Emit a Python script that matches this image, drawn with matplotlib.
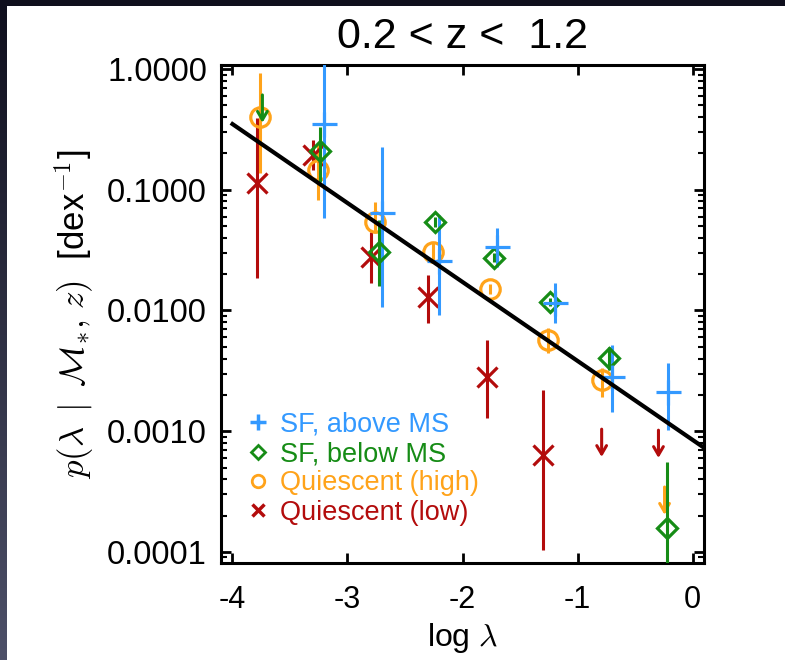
import numpy as np
import matplotlib
matplotlib.use('Agg')
import matplotlib.pyplot as plt
from matplotlib.patches import Rectangle
from matplotlib.lines import Line2D

plt.rcParams['font.family'] = ['Liberation Sans', 'DejaVu Sans']
plt.rcParams['mathtext.fontset'] = 'cm'

# -----------------------------
# Data
# -----------------------------
# SF, above MS
sfa_x = [-3.20, -2.70, -2.20, -1.70, -1.20, -0.70, -0.21]
sfa_y = [0.35, 0.064, 0.0257, 0.0336, 0.0115, 0.0028, 0.0021]
sfa_lo = [0.058, 0.0107, 0.0092, 0.0229, 0.0079, 0.00144, 0.00102]
sfa_hi = [1.5, 0.226, 0.0618, 0.0482, 0.0169, 0.0052, 0.0037]

# SF, below MS
sfb_x = [-3.235, -2.73, -2.235, -1.73, -1.235, -0.73, -0.226]
sfb_y = [0.209, 0.0305, 0.054, 0.0272, 0.0117, 0.00404, 0.000158]
sfb_lo = [0.116, 0.016, 0.049, 0.025, 0.0108, 0.00321, 5e-5]
sfb_hi = [0.33, 0.056, 0.060, 0.030, 0.0127, 0.00499, 0.000556]
sfb_ul_x = [-3.74]
sfb_ul_y = [0.61]

# Quiescent (high)
qh_x = [-3.757, -3.26, -2.765, -2.26, -1.765, -1.26, -0.783]
qh_y = [0.40, 0.146, 0.054, 0.0305, 0.0151, 0.0057, 0.00266]
qh_lo = [0.138, 0.082, 0.0438, 0.0252, 0.0137, 0.00445, 0.00192]
qh_hi = [0.93, 0.244, 0.079, 0.037, 0.0165, 0.00716, 0.00334]
qh_ul_x = [-0.243]
qh_ul_y = [0.000345]

# Quiescent (low)
ql_x = [-3.79, -3.30, -2.80, -2.296, -1.79, -1.296]
ql_y = [0.114, 0.194, 0.0277, 0.0129, 0.00281, 0.000636]
ql_lo = [0.0186, 0.146, 0.0169, 0.00787, 0.00129, 0.000104]
ql_hi = [0.39, 0.258, 0.0447, 0.0197, 0.0057, 0.0022]
ql_ul_x = [-0.79, -0.296]
ql_ul_y = [0.00104, 0.00102]

# power-law fit
fit_x = [-4.0, 0.1]
fit_y = [0.35, 7.3e-4]

yticks = [1e-4, 1e-3, 1e-2, 1e-1, 1.0]
ytick_labels = ['0.0001', '0.0010', '0.0100', '0.1000', '1.0000']
xticks = [-4, -3, -2, -1, 0]

c_blue = '#3399ff'
c_green = '#168c16'
c_orange = '#ffa31a'
c_red = '#b30c0c'

# -----------------------------
# Figure + slide background
# -----------------------------
W, H = 785, 660
fig = plt.figure(figsize=(W / 100, H / 100), dpi=100)
bg = fig.add_axes([0, 0, 1, 1], zorder=-10)
grad = np.linspace(0, 1, 256)[:, None]
bg.imshow(grad, cmap=matplotlib.colors.LinearSegmentedColormap.from_list(
    'slide', ['#0f0f1d', '#4d5068']), extent=[0, W, H, 0], aspect='auto')
bg.add_patch(Rectangle((7, 6), W - 7, H - 6, facecolor='white', edgecolor='none'))
bg.set_xlim(0, W)
bg.set_ylim(H, 0)
bg.axis('off')

ax = fig.add_axes([221 / W, 1 - 563 / H, (704 - 221) / W, (563 - 65) / H])
ax.set_yscale('log')
ax.set_xlim(-4.1, 0.1)
ax.set_ylim(8.1e-5, 1.08)

ax.plot(fit_x, fit_y, color='black', lw=3, zorder=5)

ms_kw = dict(ls='none', elinewidth=2.2, capsize=0, mew=2.3, mfc='none')


def series(x, y, lo, hi, color, marker, ms, z):
    y = np.array(y)
    err = [y - np.array(lo), np.array(hi) - y]
    ax.errorbar(x, y, yerr=err, color=color, marker=marker, ms=ms,
                zorder=z, **ms_kw)


def upper_limits(x, y, color, z):
    for xi, yi in zip(x, y):
        ax.annotate('', xy=(xi, yi / 1.7), xytext=(xi, yi),
                    arrowprops=dict(arrowstyle='->,head_width=0.35,head_length=0.6',
                                    color=color, lw=2.2, shrinkA=0, shrinkB=0),
                    zorder=z)


series(ql_x, ql_y, ql_lo, ql_hi, c_red, 'x', 14, 3)
series(qh_x, qh_y, qh_lo, qh_hi, c_orange, 'o', 14, 3)
series(sfb_x, sfb_y, sfb_lo, sfb_hi, c_green, 'D', 10.5, 4)
series(sfa_x, sfa_y, sfa_lo, sfa_hi, c_blue, '+', 18, 4)
upper_limits(ql_ul_x, ql_ul_y, c_red, 3)
upper_limits(qh_ul_x, qh_ul_y, c_orange, 3)
upper_limits(sfb_ul_x, sfb_ul_y, c_green, 4)

# axes styling
for s in ax.spines.values():
    s.set_linewidth(2.2)
ax.set_xticks(xticks)
ax.set_xticklabels([str(t) for t in xticks])
ax.set_yticks(yticks)
ax.set_yticklabels(ytick_labels)
ax.tick_params(axis='both', which='both', direction='in', top=True, right=True)
ax.tick_params(axis='x', which='major', length=7, width=2, labelsize=22, pad=16)
ax.tick_params(axis='x', which='minor', bottom=False, top=False)
ax.tick_params(axis='y', which='major', length=7, width=2, labelsize=23.5, pad=10)
ax.tick_params(axis='y', which='minor', length=4, width=1.5)

ax.set_title('0.2 < z <  1.2', fontsize=31, pad=12)
ax.set_xlabel(r'log $\lambda$', fontsize=23, labelpad=4)
ax.set_ylabel(r'$p(\lambda\ \,|\ \,\mathcal{M}_{*},\, z)$  [dex$^{-1}$]',
              fontsize=25, labelpad=8)

# legend
handles = [
    Line2D([], [], ls='none', marker='+', color=c_blue, ms=11, mew=2.5),
    Line2D([], [], ls='none', marker='D', color=c_green, mfc='none', ms=7, mew=2),
    Line2D([], [], ls='none', marker='o', color=c_orange, mfc='none', ms=9, mew=2),
    Line2D([], [], ls='none', marker='x', color=c_red, ms=9, mew=2.5),
]
labels = ['SF, above MS', 'SF, below MS', 'Quiescent (high)', 'Quiescent (low)']
leg = ax.legend(handles, labels, loc='lower left', bbox_to_anchor=(0.055, 0.075),
                frameon=False, fontsize=19.5, handlelength=0.8, handletextpad=0.4,
                labelspacing=0.12, borderpad=0, borderaxespad=0)
for txt, c in zip(leg.get_texts(), [c_blue, c_green, c_orange, c_red]):
    txt.set_color(c)

fig.savefig('out.png', dpi=100)
